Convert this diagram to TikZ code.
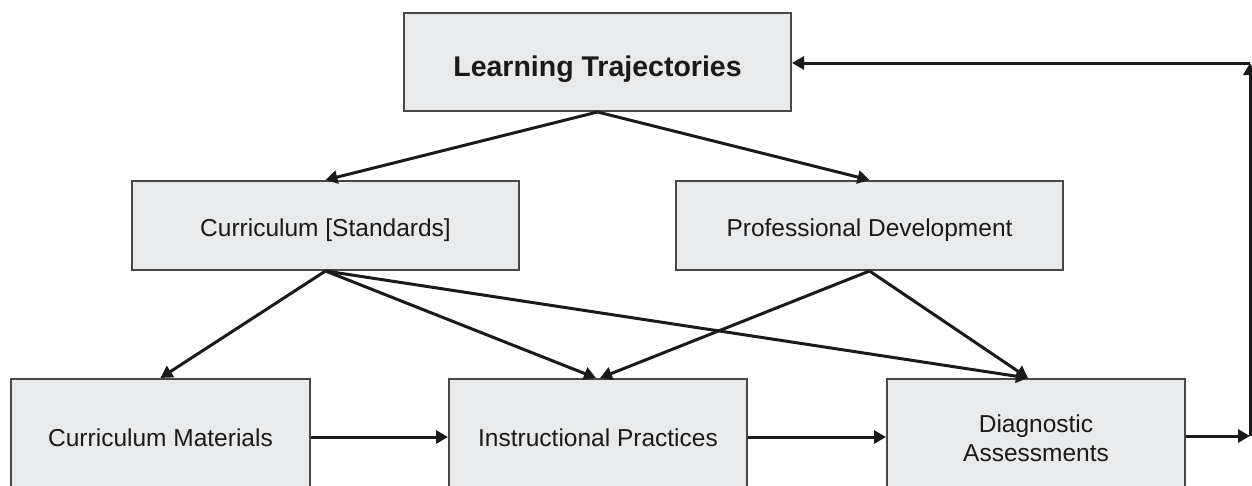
\documentclass[tikz,border=0pt]{standalone}
\usepackage{fontspec}
\setmainfont{Liberation Sans}
\usetikzlibrary{arrows.meta,calc}
\definecolor{boxfill}{HTML}{E8EAEB}
\definecolor{boxline}{HTML}{474747}
\definecolor{inkc}{HTML}{1A1A1A}
\begin{document}
\begin{tikzpicture}[x=1pt,y=-1pt,
  box/.style={draw=boxline,line width=2pt,fill=boxfill,inner sep=0pt,align=center,
    font=\fontsize{24.5}{29}\selectfont,text=inkc},
  conn/.style={draw=inkc,line width=3pt,-{Triangle[length=12pt,width=13pt]}}]
\useasboundingbox (0,0) rectangle (1252,485);
\clip (0,0) rectangle (1252,485);
\node[box,minimum width=387pt,minimum height=98pt,font=\fontsize{28.5}{34}\selectfont\bfseries] (lt) at (597.5,62) {\raisebox{-14pt}[0pt][0pt]{Learning Trajectories}};
\node[box,minimum width=387pt,minimum height=89pt] (cs) at (325.5,225.5) {\raisebox{-10.5pt}[0pt][0pt]{Curriculum [Standards]}};
\node[box,minimum width=387pt,minimum height=89pt] (pd) at (869.5,225.5) {\raisebox{-10.5pt}[0pt][0pt]{Professional Development}};
\node[box,minimum width=299pt,minimum height=118pt] (cm) at (160.5,438) {Curriculum Materials};
\node[box,minimum width=298pt,minimum height=118pt] (ip) at (598,438) {Instructional Practices};
\node[box,minimum width=298pt,minimum height=118pt] (da) at (1036,438) {Diagnostic\\Assessments};
\coordinate (dat) at ([xshift=-8pt]da.north);
\coordinate (r1) at (1250,436);
\coordinate (r2) at (1250,63);
\draw[conn] (lt.south) -- (cs.north);
\draw[conn] (lt.south) -- (pd.north);
\draw[conn] (cs.south) -- (cm.north);
\draw[conn] (cs.south) -- ([xshift=-2pt]ip.north);
\draw[conn] (cs.south) -- (dat);
\draw[conn] (pd.south) -- ([xshift=2pt]ip.north);
\draw[conn] (pd.south) -- (dat);
\draw[conn] (cm.east |- 0,437) -- (ip.west |- 0,437);
\draw[conn] (ip.east |- 0,437) -- (da.west |- 0,437);
\draw[conn] (da.east |- r1) -- (r1);
\draw[conn] (r1) -- (r2);
\draw[conn] (r2) -- (lt.east |- r2);
\end{tikzpicture}
\end{document}
